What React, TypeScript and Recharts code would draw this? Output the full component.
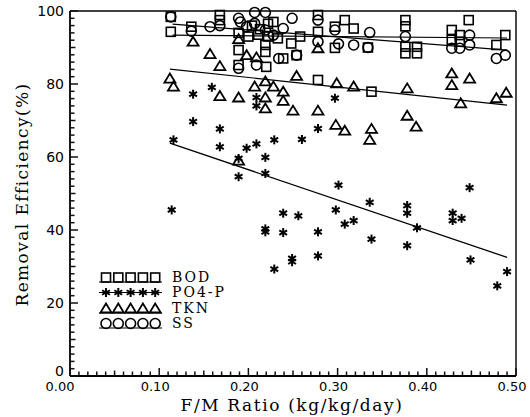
import React from 'react';
import { ScatterChart, Scatter, XAxis, YAxis, Legend, Label, ReferenceLine } from 'recharts';

// ---- data ----
const bodPoints: [number, number][] = [
  [0.113, 98.4], [0.113, 94.3], [0.136, 95.7], [0.168, 98.9], [0.168, 97.5], [0.189, 94.0],
  [0.189, 89.3], [0.189, 85.2], [0.200, 93.0], [0.204, 96.0], [0.211, 93.5], [0.213, 95.0],
  [0.219, 90.7], [0.219, 88.8], [0.220, 84.7], [0.222, 96.5], [0.222, 93.0], [0.228, 97.0],
  [0.233, 92.5], [0.239, 87.0], [0.248, 91.1], [0.254, 87.9], [0.258, 93.0], [0.278, 98.9],
  [0.278, 94.3], [0.278, 81.1], [0.297, 95.7], [0.297, 89.9], [0.308, 97.5], [0.318, 95.2],
  [0.334, 90.0], [0.338, 77.9], [0.376, 97.5], [0.376, 95.8], [0.376, 90.2], [0.376, 88.4],
  [0.389, 90.2], [0.389, 88.4], [0.428, 94.8], [0.437, 93.4], [0.428, 92.1], [0.437, 91.6],
  [0.447, 97.5], [0.478, 90.7], [0.488, 93.4],
];

const po4Points: [number, number][] = [
  [0.114, 45.5], [0.116, 64.7], [0.138, 77.2], [0.138, 69.7], [0.159, 79.1], [0.168, 67.7],
  [0.168, 62.8], [0.189, 59.6], [0.189, 54.6], [0.198, 62.4], [0.209, 63.6], [0.209, 76.3],
  [0.209, 74.0], [0.219, 59.9], [0.219, 55.5], [0.219, 39.5], [0.219, 40.3], [0.229, 64.7],
  [0.229, 29.3], [0.239, 44.6], [0.239, 39.3], [0.249, 32.2], [0.249, 31.3], [0.256, 43.9],
  [0.260, 64.8], [0.278, 67.8], [0.278, 39.5], [0.278, 32.9], [0.297, 76.1], [0.298, 45.5],
  [0.301, 52.3], [0.308, 41.6], [0.318, 42.6], [0.336, 47.6], [0.338, 37.5], [0.378, 46.7],
  [0.378, 44.6], [0.378, 35.7], [0.389, 40.6], [0.429, 44.6], [0.429, 42.6], [0.439, 43.2],
  [0.448, 51.6], [0.449, 31.8], [0.479, 24.7], [0.490, 28.6],
];

const tknPoints: [number, number][] = [
  [0.112, 81.5], [0.116, 79.3], [0.138, 91.6], [0.157, 88.2], [0.168, 84.9], [0.168, 76.7],
  [0.189, 92.3], [0.189, 76.3], [0.189, 59.0], [0.198, 87.9], [0.207, 79.3], [0.209, 87.3],
  [0.219, 80.7], [0.219, 76.3], [0.219, 73.3], [0.228, 79.3], [0.239, 77.9], [0.239, 75.4],
  [0.250, 72.7], [0.254, 82.2], [0.278, 89.8], [0.278, 72.7], [0.298, 68.8], [0.299, 80.2],
  [0.308, 67.2], [0.318, 79.3], [0.336, 64.7], [0.338, 67.7], [0.378, 78.8], [0.378, 71.3],
  [0.388, 68.3], [0.428, 82.9], [0.428, 79.7], [0.438, 74.7], [0.448, 81.5], [0.478, 76.1],
  [0.489, 77.6],
];

const ssPoints: [number, number][] = [
  [0.113, 98.4], [0.136, 94.5], [0.157, 95.7], [0.168, 96.0], [0.189, 98.0], [0.191, 97.0],
  [0.189, 84.3], [0.198, 95.7], [0.207, 99.6], [0.207, 96.6], [0.219, 99.6], [0.219, 94.8],
  [0.209, 85.2], [0.228, 93.4], [0.234, 87.0], [0.239, 95.2], [0.249, 98.0], [0.254, 87.9],
  [0.278, 97.5], [0.278, 91.6], [0.297, 94.8], [0.301, 91.0], [0.318, 90.7], [0.334, 90.0],
  [0.336, 94.1], [0.376, 93.0], [0.428, 89.8], [0.437, 89.8], [0.448, 93.4], [0.448, 90.7],
  [0.478, 87.0], [0.488, 87.9],
];

// fitted trend lines (endpoints)
const bodTrend: [number, number][] = [[0.115, 93.4], [0.49, 92.6]];
const ssTrend: [number, number][] = [[0.115, 96.4], [0.49, 89.3]];
const tknTrend: [number, number][] = [[0.112, 84.1], [0.49, 74.2]];
const po4Trend: [number, number][] = [[0.112, 63.8], [0.49, 32.5]];

const xTickLabels = ['0.00', '0.10', '0.20', '0.30', '0.40', '0.50'];
const yTickLabels = ['0', '20', '40', '60', '80', '100'];

const seriesNames = ['BOD', 'PO4-P', 'TKN', 'SS'];
const xTitle = 'F/M Ratio (kg/kg/day)';
const yTitle = 'Removal Efficiency(%)';

// minor ticks every 0.01 / every 2 %
const xTicks = Array.from({ length: 51 }, (_, i) => i / 100);
const yTicks = Array.from({ length: 51 }, (_, i) => i * 2);

const toXY = (pts: [number, number][]) => pts.map(([x, y]) => ({ x, y }));

// ---- marker shapes ----
type ShapeKind = 'square' | 'star' | 'triangle' | 'circle';

const drawMarker = (kind: ShapeKind, cx: number, cy: number, key?: any) => {
  const sw = 1.6;
  if (kind === 'square')
    return <rect key={key} x={cx - 4.5} y={cy - 4.5} width={9} height={9} fill="none" stroke="#000" strokeWidth={sw} />;
  if (kind === 'circle')
    return <circle key={key} cx={cx} cy={cy} r={5} fill="none" stroke="#000" strokeWidth={sw} />;
  if (kind === 'triangle')
    return (
      <polygon key={key} points={`${cx},${cy - 5} ${cx - 5.5},${cy + 4} ${cx + 5.5},${cy + 4}`}
        fill="none" stroke="#000" strokeWidth={1.8} strokeLinejoin="miter" />
    );
  return (
    <g key={key} stroke="#000" strokeWidth={2} strokeLinecap="butt">
      <line x1={cx} y1={cy - 4.5} x2={cx} y2={cy + 4.5} />
      <line x1={cx - 3.9} y1={cy - 2.25} x2={cx + 3.9} y2={cy + 2.25} />
      <line x1={cx - 3.9} y1={cy + 2.25} x2={cx + 3.9} y2={cy - 2.25} />
    </g>
  );
};

const SquareShape = (props: any) => (props.cx == null ? <g /> : drawMarker('square', props.cx, props.cy));
const StarShape = (props: any) => (props.cx == null ? <g /> : drawMarker('star', props.cx, props.cy));
const TriangleShape = (props: any) => (props.cx == null ? <g /> : drawMarker('triangle', props.cx, props.cy));
const CircleShape = (props: any) => (props.cx == null ? <g /> : drawMarker('circle', props.cx, props.cy));
const NoShape = () => <g />;

// ---- ticks (drawn inward) ----
const XTick = (props: any) => {
  const { x, y, payload } = props;
  const idx = Math.round(payload.value * 100);
  const major = idx % 10 === 0;
  const len = major ? 8 : idx % 5 === 0 ? 5.5 : 4.5;
  const label = major ? xTickLabels[idx / 10] : null;
  return (
    <g>
      <line x1={x} x2={x} y1={y} y2={y - len} stroke="#111" strokeWidth={1.5} />
      {label && (
        <text x={x - 4 - (idx === 0 ? 6 : 0)} y={y + 15} textAnchor="middle" fontSize={13}
          fontFamily="DejaVu Sans" fill="#000">
          {label}
        </text>
      )}
    </g>
  );
};

const YTick = (props: any) => {
  const { x, y, payload } = props;
  const v = Math.round(payload.value);
  const major = v % 20 === 0;
  const len = major ? 8 : v % 10 === 0 ? 5.5 : 4.5;
  const label = major ? yTickLabels[v / 20] : null;
  return (
    <g>
      <line x1={x} x2={x + len} y1={y} y2={y} stroke="#111" strokeWidth={1.5} />
      {label && (
        <text x={x - 6} y={y + 5 - (v === 0 ? 5 : 0)} textAnchor="end" fontSize={14}
          fontFamily="DejaVu Sans" fill="#000">
          {label}
        </text>
      )}
    </g>
  );
};

// ---- legend ----
const legendKinds: ShapeKind[] = ['square', 'star', 'triangle', 'circle'];

const renderLegend = () => (
  <div style={{ fontFamily: 'DejaVu Serif', fontSize: 14, color: '#000' }}>
    {seriesNames.map((name, i) => {
      const kind = legendKinds[i];
      const lineY = kind === 'star' ? 7.5 : 12;
      return (
        <div key={name} style={{ display: 'flex', alignItems: 'center', height: 15.3 }}>
          <svg width={68} height={15} style={{ display: 'block' }}>
            <line x1={3} x2={66} y1={lineY} y2={lineY} stroke="#000" strokeWidth={1.2} />
            {[0, 1, 2, 3, 4].map((k) => drawMarker(kind, 10 + k * 12.3, 7.5, k))}
          </svg>
          <span style={{ marginLeft: 8, letterSpacing: 2, lineHeight: '15px' }}>{name}</span>
        </div>
      );
    })}
  </div>
);

export default function App() {
  return (
    <div style={{ position: 'absolute', left: 0, top: 0, background: '#fff' }}>
      <ScatterChart width={530} height={417} margin={{ top: 11, right: 14, bottom: 0, left: 0 }}>
        <ReferenceLine y={100} stroke="#000" strokeWidth={1.4} />
        <ReferenceLine x={0.5} stroke="#000" strokeWidth={1.4} />

        <Scatter name="BOD" data={toXY(bodPoints)} shape={SquareShape} isAnimationActive={false} />
        <Scatter name="PO4-P" data={toXY(po4Points)} shape={StarShape} isAnimationActive={false} />
        <Scatter name="TKN" data={toXY(tknPoints)} shape={TriangleShape} isAnimationActive={false} />
        <Scatter name="SS" data={toXY(ssPoints)} shape={CircleShape} isAnimationActive={false} />

        <Scatter data={toXY(bodTrend)} line={{ stroke: '#000', strokeWidth: 1.2 }} shape={NoShape} isAnimationActive={false} legendType="none" />
        <Scatter data={toXY(ssTrend)} line={{ stroke: '#000', strokeWidth: 1.2 }} shape={NoShape} isAnimationActive={false} legendType="none" />
        <Scatter data={toXY(tknTrend)} line={{ stroke: '#000', strokeWidth: 1.2 }} shape={NoShape} isAnimationActive={false} legendType="none" />
        <Scatter data={toXY(po4Trend)} line={{ stroke: '#000', strokeWidth: 1.3 }} shape={NoShape} isAnimationActive={false} legendType="none" />

        <XAxis type="number" dataKey="x" domain={[0, 0.5]} ticks={xTicks} interval={0}
          tickSize={0} tickMargin={0} tickLine={false}
          axisLine={{ stroke: '#000', strokeWidth: 1.8 }} tick={<XTick />} height={41}>
          <Label
            content={(p: any) => {
              const vb = p.viewBox || { x: 70, y: 376, width: 446 };
              return (
                <text x={vb.x + vb.width / 2 - 1} y={vb.y + 35} textAnchor="middle"
                  fontFamily="DejaVu Serif" fontSize={17} letterSpacing={1.6} fill="#000">
                  {xTitle}
                </text>
              );
            }}
          />
        </XAxis>
        <YAxis type="number" dataKey="y" domain={[0, 100]} ticks={yTicks} interval={0}
          tickSize={0} tickMargin={0} tickLine={false}
          axisLine={{ stroke: '#000', strokeWidth: 1.8 }} tick={<YTick />} width={70}>
          <Label
            content={(p: any) => {
              const vb = p.viewBox || { x: 0, y: 11, height: 365 };
              const cx = vb.x + 22;
              const cy = vb.y + vb.height / 2 + 1;
              return (
                <text x={cx} y={cy} transform={`rotate(-90 ${cx} ${cy})`} textAnchor="middle"
                  dominantBaseline="central" fontFamily="DejaVu Serif" fontSize={17}
                  letterSpacing={1.4} fill="#000">
                  {yTitle}
                </text>
              );
            }}
          />
        </YAxis>

        <Legend content={renderLegend} layout="vertical" align="center" verticalAlign="middle"
          wrapperStyle={{ position: 'absolute', left: 96, top: 270, width: 160, height: 62 }} />
      </ScatterChart>
    </div>
  );
}
